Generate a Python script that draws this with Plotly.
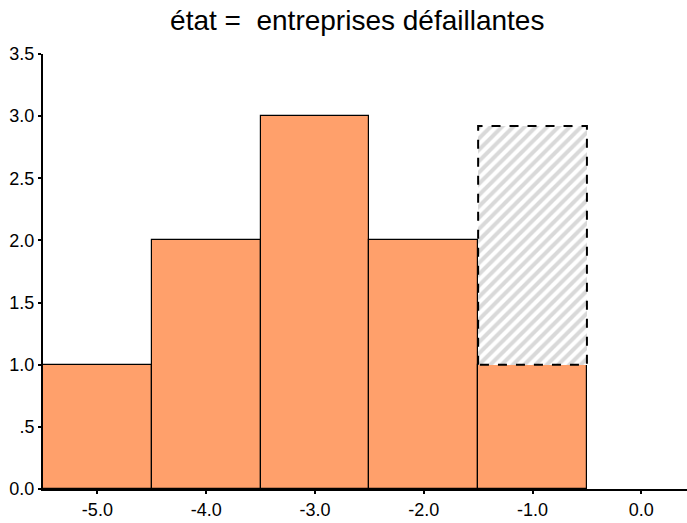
import plotly.graph_objects as go

bin_centers = [-5.0, -4.0, -3.0, -2.0, -1.0]
counts = [1, 2, 3, 2, 1]
bin_width = 1.0

ghost_center = -1.0
ghost_base = 1.0
ghost_top = 2.92

x_ticks = [-5.0, -4.0, -3.0, -2.0, -1.0, 0.0]
x_ticklabels = ["-5.0", "-4.0", "-3.0", "-2.0", "-1.0", "0.0"]
y_ticks = [0.0, 0.5, 1.0, 1.5, 2.0, 2.5, 3.0, 3.5]
y_ticklabels = ["0.0", ".5", "1.0", "1.5", "2.0", "2.5", "3.0", "3.5"]

fig = go.Figure()

fig.add_trace(go.Bar(
    x=bin_centers, y=counts, width=bin_width,
    marker=dict(color="#FFA06B", line=dict(color="black", width=1.2)),
    showlegend=False, hoverinfo="skip",
))

fig.add_trace(go.Bar(
    x=[ghost_center], y=[ghost_top - ghost_base], base=[ghost_base], width=bin_width,
    marker=dict(color="white", line=dict(width=0),
                pattern=dict(shape="/", fgcolor="#b4b4b4", bgcolor="white",
                             size=8, solidity=0.5)),
    showlegend=False, hoverinfo="skip",
))

h = bin_width / 2
fig.add_trace(go.Scatter(
    x=[ghost_center - h, ghost_center - h, ghost_center + h, ghost_center + h, ghost_center - h],
    y=[ghost_base, ghost_top, ghost_top, ghost_base, ghost_base],
    mode="lines", line=dict(color="black", width=2, dash="dash"),
    showlegend=False, hoverinfo="skip",
))

fig.update_layout(
    width=687, height=523,
    margin=dict(l=43, r=0, t=54, b=34, autoexpand=False),
    paper_bgcolor="white", plot_bgcolor="white",
    barmode="overlay", bargap=0,
    font=dict(family="Liberation Sans, Arial, sans-serif", size=18, color="black"),
    title=dict(text="état =  entreprises défaillantes", x=0.52, xanchor="center",
               y=0.962, yanchor="middle", automargin=False,
               font=dict(size=28, color="black")),
)

fig.update_xaxes(
    range=[-5.5, 0.42], tickmode="array", tickvals=x_ticks, ticktext=x_ticklabels,
    tickfont=dict(size=18),
    showline=True, linecolor="black", linewidth=2, ticks="outside", ticklen=3,
    tickwidth=2, tickcolor="black", showgrid=False, zeroline=False, automargin=False,
)
fig.update_yaxes(
    range=[0, 3.5], tickmode="array", tickvals=y_ticks, ticktext=y_ticklabels,
    tickfont=dict(size=18),
    showline=True, linecolor="black", linewidth=2, ticks="outside", ticklen=3,
    tickwidth=2, tickcolor="black", showgrid=False, zeroline=False, automargin=False,
)

fig.write_html("out.html", config={"displayModeBar": False},
               post_script="document.body.style.margin='0';")
